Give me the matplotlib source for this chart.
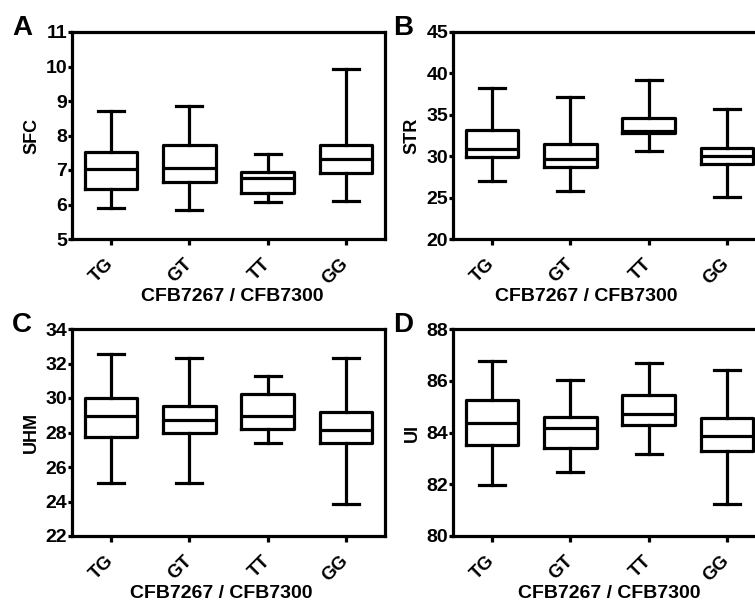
import matplotlib
matplotlib.use('Agg')
import matplotlib.pyplot as plt
from matplotlib.transforms import ScaledTranslation

plt.rcParams['font.family'] = ['Liberation Sans', 'DejaVu Sans']
plt.rcParams['font.weight'] = 'bold'

genotypes = ['TG', 'GT', 'TT', 'GG']
xlabel = 'CFB7267 / CFB7300'

# whisker low, Q1, median, Q3, whisker high
sfc_low = [5.89, 5.84, 6.06, 6.09]
sfc_q1 = [6.44, 6.66, 6.34, 6.90]
sfc_med = [7.03, 7.06, 6.78, 7.31]
sfc_q3 = [7.53, 7.72, 6.95, 7.72]
sfc_high = [8.70, 8.85, 7.45, 9.92]

str_low = [27.02, 25.82, 30.63, 25.02]
str_q1 = [29.95, 28.75, 32.76, 29.03]
str_med = [30.91, 29.71, 33.04, 30.07]
str_q3 = [33.16, 31.48, 34.57, 31.04]
str_high = [38.26, 37.10, 39.18, 35.73]

uhm_low = [25.10, 25.10, 27.42, 23.86]
uhm_q1 = [27.73, 27.96, 28.19, 27.42]
uhm_med = [28.97, 28.74, 28.93, 28.14]
uhm_q3 = [29.99, 29.51, 30.24, 29.21]
uhm_high = [32.57, 32.32, 31.25, 32.32]

ui_low = [81.96, 82.47, 83.15, 81.22]
ui_q1 = [83.53, 83.40, 84.30, 83.27]
ui_med = [84.37, 84.17, 84.73, 83.85]
ui_q3 = [85.26, 84.60, 85.46, 84.56]
ui_high = [86.78, 86.01, 86.68, 86.42]

panels = [
    # letter, ylabel, series, ylim, yticks, position, xlabel x, xlabel y
    ('A', 'SFC', (sfc_low, sfc_q1, sfc_med, sfc_q3, sfc_high), (5, 11), range(5, 12, 1),
     [72 / 755, 1 - 239 / 603, 313 / 755, 207 / 603], 0.511, -0.235),
    ('B', 'STR', (str_low, str_q1, str_med, str_q3, str_high), (20, 45), range(20, 46, 5),
     [453 / 755, 1 - 239 / 603, 313 / 755, 207 / 603], 0.425, -0.235),
    ('C', 'UHM', (uhm_low, uhm_q1, uhm_med, uhm_q3, uhm_high), (22, 34), range(22, 35, 2),
     [72 / 755, 1 - 536 / 603, 313 / 755, 207 / 603], 0.476, -0.238),
    ('D', 'UI', (ui_low, ui_q1, ui_med, ui_q3, ui_high), (80, 88), range(80, 89, 2),
     [453 / 755, 1 - 536 / 603, 313 / 755, 207 / 603], 0.498, -0.238),
]

fig = plt.figure(figsize=(7.55, 6.03), dpi=100)
lw = 2.3
shift = ScaledTranslation(3 / 100, 0, fig.dpi_scale_trans)

for letter, ylab, series, ylim, yticks, pos, xl, yl in panels:
    ax = fig.add_axes(pos)
    low, q1, med, q3, high = series
    stats = []
    for i, g in enumerate(genotypes):
        stats.append({'label': g, 'whislo': low[i], 'q1': q1[i], 'med': med[i],
                      'q3': q3[i], 'whishi': high[i], 'fliers': []})
    lp = dict(color='black', linewidth=lw)
    ax.bxp(stats, positions=range(4), widths=0.67, showfliers=False,
           boxprops=lp, whiskerprops=lp, capprops=lp, medianprops=lp)
    ax.set_xlim(-0.5, 3.5)
    ax.set_ylim(*ylim)
    ax.set_yticks(list(yticks))
    ax.set_xticks(range(4))
    ax.set_xticklabels(genotypes, rotation=45, ha='right', va='center',
                       rotation_mode='anchor', fontsize=13.5, fontweight='bold')
    for lab in ax.get_xticklabels():
        lab.set_transform(lab.get_transform() + shift)
    for lab in ax.get_yticklabels():
        lab.set_fontsize(14)
        lab.set_fontweight('bold')
    ax.tick_params(axis='y', length=3, width=lw, pad=0.5)
    ax.tick_params(axis='x', length=4, width=lw, pad=12)
    for sp in ax.spines.values():
        sp.set_linewidth(lw)
    ax.set_ylabel(ylab, fontsize=13, fontweight='bold', labelpad=4)
    ax.set_xlabel(xlabel, fontsize=14, fontweight='bold')
    ax.xaxis.set_label_coords(xl, yl)
    ax.text(-0.16, 1.02, letter, transform=ax.transAxes, fontsize=20,
            fontweight='bold', ha='center', va='center')

fig.savefig('out.png', dpi=100)
